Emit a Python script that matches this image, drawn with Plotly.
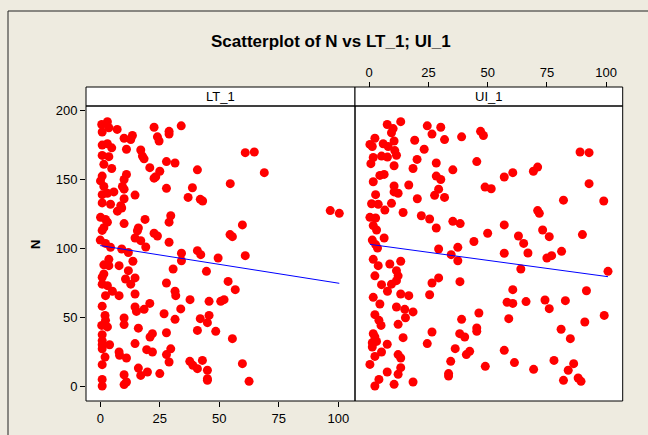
import plotly.graph_objects as go

# ---------------- data ----------------
lt_x = [0.6, 3, 3.6, 0.8, 7.1, 22.6, 28.9, 28.9, 34, 10, 13.5, 12.8, 24, 24.7, 0.8, 3, 4.8, 11, 17, 17.7,
        18.4, 0.8, 3.6, 1.5, 4.8, 27.8, 31.4, 20.8, 25, 23.3, 22.6, 40.8, 60.9, 64.7, 68.9, 54.6, 0.8, 0.1, 1.5, 11,
        10, 9.3, 10, 27.8, 38.7, 0.8, 3, 5.7, 14.6, 10, 36.9, 42, 43, 0.8, 4.3, 8.6,
        7.2, 9, 96.6, 100.4, 0.1, 2.2, 3, 1.5, 0.8, 10, 18.8, 29.6, 28.9, 16, 15.6, 22.6, 24, 14.6, 17, 19.1,
        28.9, 0, 2.2, 4.3, 9, 11.8, 59.7, 54.5, 55.5, 34.1, 34.1, 40.8, 42.2, 49.5, 60.9, 3.6, 1.5, 3.6, 7.9, 13.7,
        11.8, 1.5, 0.8, 10.6, 14.6, 12.8, 30.6, 44.6, 27.8, 53.7, 56.7, 0.8, 3, 2.2, 5.1, 7.9, 14.6, 31.4, 31.7, 37.7,
        45.7, 50.6, 52, 20.8,
        0.8, 14.6, 18.4, 15.2, 26.8, 33.8, 31.4, 42, 45.7, 45, 2, 2.2, 0.6, 3, 10, 10, 16, 40.8, 48.5, 55.5,
        27.8, 21.9, 20.9, 0.8, 0.8, 0.8, 3.9, 14.6, 0.8, 19.5, 21.9, 29.6, 27.8, 7.9, 8.1, 11, 2, 28.9, 37.6, 42.9,
        38.9, 40.8, 45, 45, 45, 59.7, 62.5, 0.8, 16, 19.8, 17, 25, 10, 0.8, 0.8, 10, 11]
lt_n = [190, 192, 187.6, 184.5, 186.4, 188, 185, 183, 189, 180, 182, 179, 181, 178, 175, 176, 173, 172, 171.4, 167,
        165, 167.5, 166.6, 161, 158, 163, 162, 158.6, 156, 152, 151, 157, 169.5, 170, 155, 147, 152.5, 149, 145, 153.7,
        150, 145, 143, 143.6, 144, 139, 140, 141, 138.7, 136, 137, 135.6, 134.4, 133, 132, 131,
        127, 129.3, 127.4, 125.4, 122.5, 121, 119, 115, 113, 118, 121, 123.7, 119, 114.8, 112.8, 111, 109, 107.5, 105.6, 101,
        104.4, 106, 103.6, 100.7, 99.5, 97, 117, 110, 108.5, 96.4, 91, 98.3, 95.4, 93, 94.7, 92, 88, 87.4, 87.4, 90.6,
        83.8, 81.4, 79, 77.7, 78.5, 74, 85, 83.3, 74.8, 76, 70, 74, 72.9, 65.6, 68.8, 65.6, 66.8, 68.8, 65.6, 62.7,
        61.5, 61.5, 62.7, 60,
        58, 57.4, 55.7, 54.2, 52.5, 56, 48.4, 48.9, 51.3, 46, 51.3, 47.7, 44, 42.9, 49.4, 44.6, 42, 40.4, 39.7, 34.4,
        38.7, 38, 35.6, 37.3, 33, 30, 30, 30.8, 27, 26.4, 24.7, 27, 22.8, 24.7, 22.3, 20.3, 21, 17.4, 17.9, 18.6,
        15, 12.6, 11.4, 5.3, 4.1, 16.2, 3.4, 15.5, 13, 10.2, 7.7, 9, 8.2, 4.8, 0, 1, 2.9]

ui_x = [7.6, 13.3, 10.1, 9.4, 24.5, 30.2, 26.5, 31.8, 39, 47, 48.2, 2.4, 0.3, 1.3, 5.9, 8, 10.5, 10.8, 11.5, 19.2,
        23.2, 5.2, 7.7, 1.7, 0.7, 20.2, 28.3, 18.5, 10.5, 35.3, 45.4, 28.3, 30.2, 4.5, 6.3, 1.7, 10.5, 16.7, 57, 60.6,
        69.3, 71.1, 89, 92.8, 92.8, 48.9, 51.5, 10.5, 12.2, 2.7, 29.3, 27.6, 31.8, 20.3, 82, 99, 1, 3.8, 9.4,
        6.6, 14.3, 22, 25.5, 35.3, 38.4, 28.3, 71.1, 71.8, 0.3, 2.7, 1.7, 3.1, 1.3, 6.3, 2.7, 3.5, 57, 50, 44.2,
        63, 65.2, 73.2, 76, 90, 29.3, 37.4, 34.6, 37.4, 57, 67, 75, 77, 81.2, 64, 100.8, 1.7, 3.8, 2.4, 8.7,
        11.5, 13.3, 12.2, 11.5, 9.4, 5.2, 7.7, 1.7, 13.3, 16.7, 29.3, 26.5, 38.3, 25.5, 60.6, 91.7, 58.2, 60.6, 66.2, 74.2,
        82.8, 4.5,
        11.5, 15, 18.5, 15.3, 2.4, 4.1, 5, 12.2, 1.7, 2.4, 1.3, 3.1, 1.3, 7.6, 14.3, 5.2, 2.4, 12.2, 13.3, 0.3,
        13.3, 12.2, 7.6, 4.1, 2.4, 10.5, 18.5, 26.5, 24.5, 39, 46.3, 45.4, 45.4, 38.2, 40.3, 36.3, 42.4, 41, 34.4, 33.5,
        33.5, 49, 76, 58.9, 57, 61.3, 69.4, 78, 81, 84.9, 91, 99.2, 86.3, 84, 82, 88.2, 89.4]
ui_n = [190, 192, 187, 184, 189, 188, 183, 179, 181, 185, 182, 180, 175.5, 174, 176, 174, 178, 171, 167.6, 178.5,
        172, 167, 166.3, 166, 161.5, 164.6, 162, 158, 160, 157, 163, 152.5, 150, 153, 153.7, 148.4, 145.3, 146, 151.8, 155,
        156, 159, 170, 169.5, 147, 144.5, 143.3, 141, 140, 139, 143, 138.5, 137, 136, 135, 134.4, 132.4, 132, 132.7,
        127.8, 126, 123.7, 121.3, 119.6, 118, 114.8, 127.4, 125.4, 122.5, 122, 116.5, 113.3, 106, 107.5, 102.7, 100.2, 117, 111, 105,
        109, 103.6, 113.3, 108.5, 110, 99.5, 100.7, 95.4, 91, 96.4, 96.6, 93, 94.7, 97.8, 85, 83.3, 92, 87.4, 80, 88.6,
        83.8, 90.6, 80, 76.5, 74, 73.6, 68.8, 64.4, 66.8, 65.6, 78.5, 74.8, 75.8, 66.3, 70, 69.2, 60.8, 60, 61.3, 62.5,
        62, 59.6,
        57.4, 55.7, 53.8, 49.6, 51.8, 47.7, 44, 44.8, 38, 35.6, 31.5, 32.4, 28.3, 30.3, 35.1, 24.7, 21.5, 22.8, 20.3, 15.7,
        13.3, 8.5, 10.2, 4.8, 0, 1.2, 2.9, 39.2, 30.8, 48.4, 53, 42.1, 39.7, 38, 35.6, 27.1, 25.2, 22.8, 17.9, 9,
        7.3, 14.3, 56.2, 48.9, 25.9, 17, 12.1, 18.6, 41.2, 34.4, 46.5, 51.3, 16.2, 11.4, 4.1, 5.8, 3.4]

# fitted regression lines (end points)
lt_fit_x = [0, 100.4]
lt_fit_n = [102, 74.6]
ui_fit_x = [0.3, 100.8]
ui_fit_n = [102.9, 79.4]

x_ticks = [0, 25, 50, 75, 100]
y_ticks = [0, 50, 100, 150, 200]
panel_names = ["LT_1", "UI_1"]
title_text = "Scatterplot of N vs LT_1; UI_1"
y_title = "N"

# ---------------- layout geometry (pixels) ----------------
W, H = 648, 435
def px(x):
    return x / W
def py(y):
    return 1 - y / H

L1, M, R2 = 86, 355, 622.7
TOP_STRIP, TOP_PLOT, BOT = 87, 106, 401

FONT = "Liberation Sans, Arial, sans-serif"
RED = "#FF0000"
BLUE = "#0000FF"
BG = "#EEEBE0"

fig = go.Figure()
marker = dict(color=RED, size=9, line=dict(width=0))
fig.add_trace(go.Scatter(x=lt_x, y=lt_n, mode="markers", marker=marker, xaxis="x", yaxis="y",
                         showlegend=False, hoverinfo="x+y"))
fig.add_trace(go.Scatter(x=lt_fit_x, y=lt_fit_n, mode="lines", line=dict(color=BLUE, width=1),
                         xaxis="x", yaxis="y", showlegend=False))
fig.add_trace(go.Scatter(x=ui_x, y=ui_n, mode="markers", marker=marker, xaxis="x2", yaxis="y2",
                         showlegend=False, hoverinfo="x+y"))
fig.add_trace(go.Scatter(x=ui_fit_x, y=ui_fit_n, mode="lines", line=dict(color=BLUE, width=1),
                         xaxis="x2", yaxis="y2", showlegend=False))

xr = [-6.0, 107.0]
yr = [-10.9, 203.4]
tickfont = dict(family=FONT, size=13, color="black")

fig.update_layout(
    width=W, height=H,
    margin=dict(l=0, r=0, t=0, b=0, autoexpand=False),
    paper_bgcolor=BG, plot_bgcolor="white",
    showlegend=False,
    font=dict(family=FONT, color="black"),
    xaxis=dict(domain=[px(L1), px(M)], range=xr, anchor="y",
               tickvals=x_ticks, ticks="outside", ticklen=5, tickcolor="black", tickwidth=1,
               showgrid=False, zeroline=False, showline=False, tickfont=tickfont),
    yaxis=dict(domain=[py(BOT), py(TOP_PLOT)], range=yr, anchor="x",
               tickvals=y_ticks, ticks="outside", ticklen=5, tickcolor="black", tickwidth=1,
               showgrid=False, zeroline=False, showline=False, tickfont=tickfont),
    xaxis2=dict(domain=[px(M), px(R2)], range=xr, anchor="free", position=py(TOP_STRIP), side="top",
                tickvals=x_ticks, ticks="outside", ticklen=5, tickcolor="black", tickwidth=1,
                showgrid=False, zeroline=False, showline=False, tickfont=tickfont),
    yaxis2=dict(domain=[py(BOT), py(TOP_PLOT)], range=yr, anchor="x2", matches="y",
                showticklabels=False, ticks="", showgrid=False, zeroline=False, showline=False),
)

shapes = []
# outer frame
shapes.append(dict(type="rect", xref="paper", yref="paper", x0=px(8), x1=1.05, y0=-0.05, y1=py(11),
                   line=dict(color="#222222", width=1), fillcolor="rgba(0,0,0,0)", layer="below"))
for (a, b) in [(L1, M), (M, R2)]:
    # strip box
    shapes.append(dict(type="rect", xref="paper", yref="paper", x0=px(a), x1=px(b),
                       y0=py(TOP_PLOT), y1=py(TOP_STRIP),
                       line=dict(color="black", width=1), fillcolor="white", layer="above"))
    # plot border
    shapes.append(dict(type="rect", xref="paper", yref="paper", x0=px(a), x1=px(b),
                       y0=py(BOT), y1=py(TOP_PLOT),
                       line=dict(color="black", width=1), fillcolor="rgba(0,0,0,0)", layer="above"))
fig.update_layout(shapes=shapes)

ann = []
for name, (a, b) in zip(panel_names, [(L1, M), (M, R2)]):
    ann.append(dict(text=name, xref="paper", yref="paper", x=px((a + b) / 2), y=py((TOP_STRIP + TOP_PLOT) / 2),
                    showarrow=False, xanchor="center", yanchor="middle",
                    font=dict(family=FONT, size=13, color="black")))
ann.append(dict(text="<b>" + title_text + "</b>", xref="paper", yref="paper", x=px(331), y=py(42),
                showarrow=False, xanchor="center", yanchor="middle",
                font=dict(family=FONT, size=17, color="black")))
ann.append(dict(text="<b>" + y_title + "</b>", xref="paper", yref="paper", x=px(35), y=py(245),
                showarrow=False, xanchor="center", yanchor="middle", textangle=-90,
                font=dict(family=FONT, size=13, color="black")))
fig.update_layout(annotations=ann)

fig.write_html("out.html", config={"displayModeBar": False},
               post_script="document.body.style.margin='0px';document.body.style.overflow='hidden';")
